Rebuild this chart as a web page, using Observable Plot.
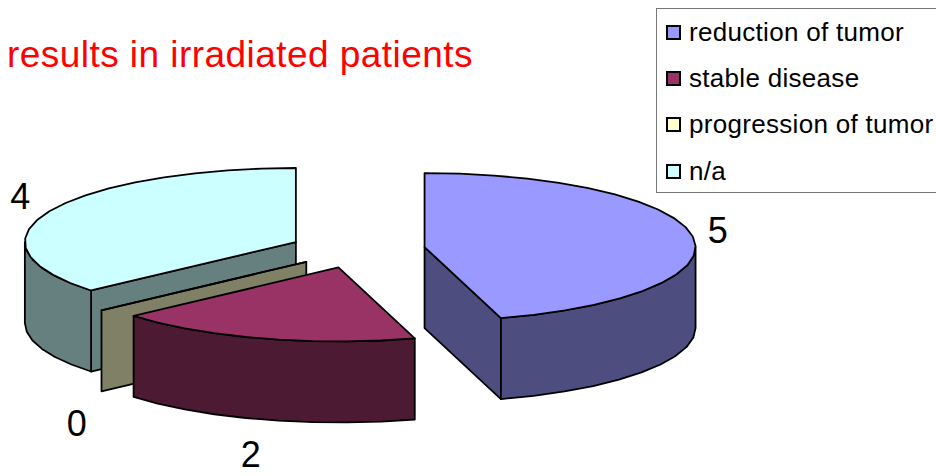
<!DOCTYPE html>
<html>
<head>
<meta charset="utf-8">
<script src="https://cdn.jsdelivr.net/npm/d3@7"></script>
<script src="https://cdn.jsdelivr.net/npm/@observablehq/plot@0.6"></script>
<style>
  html, body { margin: 0; padding: 0; background: #fff; overflow: hidden; }
  #chart { position: relative; width: 936px; height: 476px; font-family: "Liberation Sans", Arial, sans-serif; }
  #title { position: absolute; left: 7px; top: 33px; color: #ff0000; font-size: 37px; line-height: 44px; letter-spacing: 0.45px; white-space: nowrap; }
  #legend { position: absolute; left: 656px; top: 8px; width: 280px; height: 185px; box-sizing: border-box; border: 1.5px solid #777; border-right: none; }
  .row { position: absolute; left: 9px; white-space: nowrap; font-size: 26px; line-height: 30px; letter-spacing: 0.3px; color: #000; }
  .key { position: absolute; left: 0; top: 8px; width: 15px; height: 15px; box-sizing: border-box; border: 2px solid #000; }
  .row span { margin-left: 23px; }
</style>
</head>
<body>
<div id="chart">
  <div id="title"></div>
  <div id="legend"></div>
</div>
<script>
const title = "results in irradiated patients";
const categories = ["reduction of tumor", "stable disease", "progression of tumor", "n/a"];
const values = [5, 2, 0, 4];
const topColors = ["#9999ff", "#993366", "#ffffcc", "#ccffff"];
const sideColors = ["#4d4d80", "#4d1a33", "#808066", "#668080"];
const legendRowTops = [8, 54, 100, 147];

// Pie geometry, in units of the disc: the tilted disc has radius 1 on both scales.
const explode = 0.25;
const depth = 1.095;
const arcStep = Math.PI / 24;
const total = d3.sum(values);

let running = 0;
const slices = categories.map((name, i) => {
  const start = running / total * 2 * Math.PI;
  running += values[i];
  const end = running / total * 2 * Math.PI;
  const mid = (start + end) / 2;
  return {
    name, value: values[i], i, start, end, mid,
    cx: explode * Math.sin(mid),
    cy: -explode * Math.cos(mid)
  };
});

const rim = (s, a, h = 0) => ({x: s.cx + Math.sin(a), y: s.cy - Math.cos(a) + h});
const hub = (s, h = 0) => ({x: s.cx, y: s.cy + h});

function arc(s, from, to, h = 0) {
  const n = Math.max(1, Math.ceil((to - from) / arcStep));
  return d3.range(n + 1).map(k => rim(s, from + (to - from) * k / n, h));
}

// Faces are painted from the back of the pie to the front.
const faces = [];
function addFace(points, fill) {
  const face = faces.length === 0 ? 0 : faces[faces.length - 1].face + 1;
  points.forEach(p => faces.push({...p, face, fill}));
}

for (const s of [...slices].reverse()) {
  const side = sideColors[s.i];
  // Cut faces turned towards the viewer
  if (Math.sin(s.end) > 0) addFace([hub(s), rim(s, s.end), rim(s, s.end, depth), hub(s, depth)], side);
  if (Math.sin(s.start) < 0) addFace([hub(s), rim(s, s.start), rim(s, s.start, depth), hub(s, depth)], side);
  // Front wall of the rim
  const from = Math.max(s.start, Math.PI / 2);
  const to = Math.min(s.end, 3 * Math.PI / 2);
  if (to > from) addFace([...arc(s, from, to), ...arc(s, from, to, depth).reverse()], side);
  // Top surface
  addFace([hub(s), ...arc(s, s.start, s.end)], topColors[s.i]);
}

// Value labels sit just outside the rim; those on the near half clear the wall.
const labels = slices.map(s => {
  const c = Math.cos(s.mid);
  return {
    text: String(s.value),
    x: s.cx + 1.105 * Math.sin(s.mid) - 0.012,
    y: s.cy + (c < 0 ? -1.155 * c + depth + 0.34 : -1.45 * c)
  };
});

const width = 936, height = 476;
const unitX = 271, unitY = 74;
const originX = 357, originY = 249.2;

const plot = Plot.plot({
  width, height,
  margin: 0,
  style: {background: "transparent", display: "block", fontFamily: "'Liberation Sans', Arial, sans-serif"},
  x: {axis: null, domain: [-originX / unitX, (width - originX) / unitX], range: [0, width]},
  y: {axis: null, domain: [-originY / unitY, (height - originY) / unitY], range: [0, height]},
  marks: [
    Plot.line(faces, {
      x: "x", y: "y", z: "face", fill: "fill",
      stroke: "#000", strokeWidth: 1.8, strokeLinejoin: "round",
      curve: "linear-closed"
    }),
    Plot.text(labels, {
      x: "x", y: "y", text: "text",
      fontSize: 36, fill: "#000", textAnchor: "middle", lineAnchor: "middle"
    })
  ]
});

const chart = document.getElementById("chart");
chart.insertBefore(plot, chart.firstChild);
document.getElementById("title").textContent = title;

const legend = d3.select("#legend");
categories.forEach((name, i) => {
  const row = legend.append("div").attr("class", "row").style("top", legendRowTops[i] + "px");
  row.append("div").attr("class", "key").style("background", topColors[i]);
  row.append("span").text(name);
});
</script>
</body>
</html>
